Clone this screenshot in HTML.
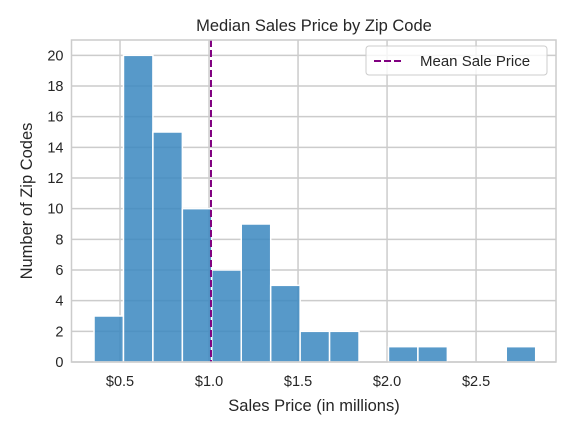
<!DOCTYPE html>
<html><head><meta charset="utf-8"><style>
body{margin:0;background:#fff;font-family:"Liberation Sans","DejaVu Sans",sans-serif}
</style></head><body>
<svg id="chart" width="576" height="432" xmlns="http://www.w3.org/2000/svg" font-family="Liberation Sans, DejaVu Sans, sans-serif">
<rect width="576" height="432" fill="#fff"/>
<g id="grid"></g><g id="bars"></g><g id="ticks"></g>
</svg>
<script>
const binStart = 0.354;
const binWidth = 0.1654;
const counts = [3,20,15,10,6,9,5,2,2,0,1,1,0,0,1];
const meanPrice = 1.011;
const xTicks = [0.5,1.0,1.5,2.0,2.5];
const xTickLabels = ["$0.5","$1.0","$1.5","$2.0","$2.5"];
const yTicks = [0,2,4,6,8,10,12,14,16,18,20];

const L=71.5,R=556,T=40,B=362,xmin=0.2275,xmax=2.949,ymin=0,ymax=21;
const X=v=>L+(v-xmin)/(xmax-xmin)*(R-L);
const Y=v=>B-(v-ymin)/(ymax-ymin)*(B-T);
const NS="http://www.w3.org/2000/svg";
const svg=document.getElementById('chart');
function mk(tag,attrs,parent,text){const e=document.createElementNS(NS,tag);for(const k in attrs)e.setAttribute(k,attrs[k]);if(text!==undefined)e.textContent=text;(parent||svg).appendChild(e);return e;}
const grid=document.getElementById('grid'),bars=document.getElementById('bars'),ticks=document.getElementById('ticks');
xTicks.forEach((t,i)=>{
  const g=mk('line',{x1:X(t),x2:X(t),y1:T,y2:B,stroke:'#cccccc','stroke-width':1.5},grid);
  
  
  const l=mk('text',{x:X(t),y:B+24,'text-anchor':'middle','font-size':14.5,fill:'#262626'},ticks,xTickLabels[i]);
  
  
});
yTicks.forEach(t=>{
  const g=mk('line',{x1:L,x2:R,y1:Y(t),y2:Y(t),stroke:'#cccccc','stroke-width':1.5},grid);
  
  
  const l=mk('text',{x:L-8,y:Y(t)+5,'text-anchor':'end','font-size':14.5,fill:'#262626'},ticks,String(t));
  
  
});
counts.forEach((c,i)=>{
  if(c<=0)return;
  const x0=X(binStart+i*binWidth),x1=X(binStart+(i+1)*binWidth);
  const r=mk('rect',{x:x0,y:Y(c),width:x1-x0,height:Y(0)-Y(c),fill:'#3a87c0','fill-opacity':0.85,stroke:'#fff','stroke-width':1.5},bars);
  
  
});
const m=mk('line',{x1:X(meanPrice),x2:X(meanPrice),y1:T,y2:B,stroke:'#800080','stroke-width':2,'stroke-dasharray':'7,3'});


const fr=mk('rect',{x:L,y:T,width:R-L,height:B-T,fill:'none',stroke:'#cccccc','stroke-width':1.5});


const lg=mk('g',{});


mk('rect',{x:366,y:46,width:181,height:29,rx:3,fill:'#fff','fill-opacity':0.8,stroke:'#cccccc'},lg);
mk('line',{x1:374,x2:404,y1:61,y2:61,stroke:'#800080','stroke-width':2,'stroke-dasharray':'7,3'},lg);
mk('text',{x:420,y:66,'font-size':15,fill:'#262626'},lg,'Mean Sale Price');
const tt=mk('text',{x:314,y:31,'text-anchor':'middle','font-size':16.5,fill:'#262626'},svg,'Median Sales Price by Zip Code');


const xt=mk('text',{x:314,y:411,'text-anchor':'middle','font-size':16.5,fill:'#262626'},svg,'Sales Price (in millions)');


const yt=mk('text',{x:0,y:0,'text-anchor':'middle','font-size':16.5,fill:'#262626',transform:'translate(32,201) rotate(-90)'},svg,'Number of Zip Codes');


</script>
</body></html>
